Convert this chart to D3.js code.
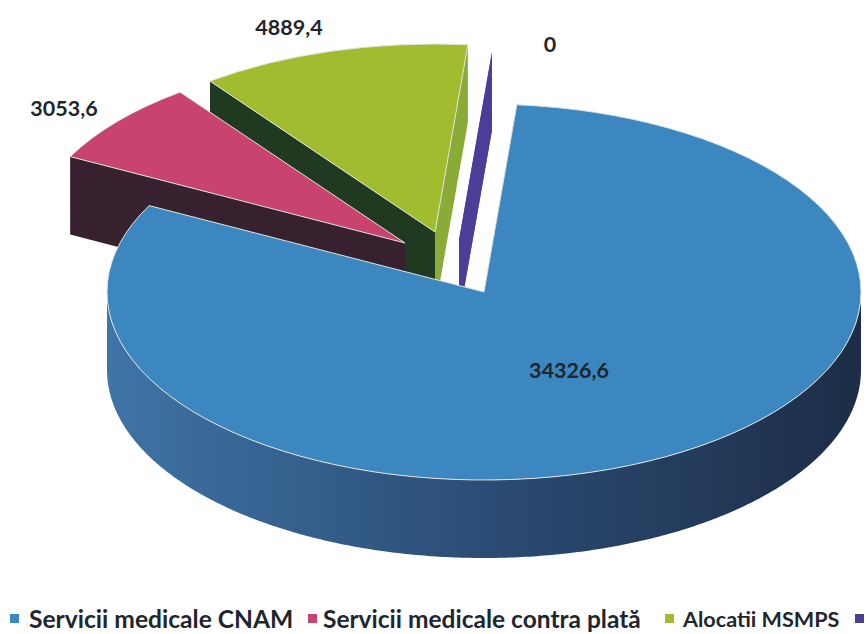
<!DOCTYPE html>
<html>
<head>
<meta charset="utf-8">
<script src="https://cdn.jsdelivr.net/npm/d3@7"></script>
<style>
  html, body { margin: 0; padding: 0; background: #fff; }
  svg { display: block; }
  text { font-family: Lato, "Open Sans", sans-serif; font-weight: 700; fill: #1e262e; }
</style>
</head>
<body>
<div id="chart"></div>
<script>
// values
const categories = ['Servicii medicale CNAM', 'Servicii medicale contra plată', 'Alocatii MSMPS', ''];
const values = [34326.6, 3053.6, 4889.4, 0];
const valueLabels = ['34326,6', '3053,6', '4889,4', '0'];

// colours per slice: top face, wall on the first edge, wall on the last edge
const topColors = ['#3d87c0', '#c9436f', '#a1bd2f', '#4c3d98'];
const startWallColors = ['#2f5f8c', '#38212f', '#1f3a20', '#4c3d98'];
const endWallColors = ['#2f5f8c', '#38212f', '#8bab38', '#4c3d98'];

const width = 868;
const height = 634;
const cx = 484;
const cy = 292;
const rx = 377;
const ry = 188;
const depth = 78;
const startAngle = 5 * Math.PI / 180;

// how far each slice is pulled out of the pie, in screen pixels
const explode = [[0, 0], [-79, -49], [-49, -60], [-25, -52]];
const labelPos = [[569, 370], [64, 108], [289, 27], [550, 44]];
const legendX = [[10, 29, 24.6], [308, 323, 24.5], [665, 683, 21.6], [855, 0, 0]];

const svg = d3.select('#chart').append('svg')
  .attr('width', width)
  .attr('height', height);

const grad = svg.append('defs').append('linearGradient')
  .attr('id', 'blueWall')
  .attr('gradientUnits', 'userSpaceOnUse')
  .attr('x1', cx - rx).attr('x2', cx + rx)
  .attr('y1', 0).attr('y2', 0);
grad.append('stop').attr('offset', '0%').attr('stop-color', '#3f74a6');
grad.append('stop').attr('offset', '50%').attr('stop-color', '#2b4c75');
grad.append('stop').attr('offset', '100%').attr('stop-color', '#1d2d47');

const slices = d3.pie().sort(null).startAngle(startAngle).endAngle(startAngle + 2 * Math.PI)(values);
const arc = d3.arc().innerRadius(0).outerRadius(rx);
const line = d3.line();

function rim(a, i, drop) {
  return [
    cx + explode[i][0] + rx * Math.sin(a),
    cy + explode[i][1] - ry * Math.cos(a) + (drop || 0)
  ];
}

function edgeWall(a, i) {
  let apex = [cx + explode[i][0], cy + explode[i][1]];
  return line([apex, rim(a, i), rim(a, i, depth), [apex[0], apex[1] + depth]]) + 'Z';
}

function drawSlice(i) {
  let d = slices[i];
  let g = svg.append('g');

  g.append('path')
    .attr('d', edgeWall(d.startAngle, i))
    .attr('fill', startWallColors[i]);
  g.append('path')
    .attr('d', edgeWall(d.endAngle, i))
    .attr('fill', endWallColors[i]);

  // outer wall, only the part of the rim that faces the viewer
  let from = Math.max(d.startAngle, Math.PI / 2);
  let to = Math.min(d.endAngle, 3 * Math.PI / 2);
  if (to > from) {
    let top = d3.range(from, to, 0.01).concat(to).map(a => rim(a, i));
    let bottom = top.map(p => [p[0], p[1] + depth]).reverse();
    g.append('path')
      .attr('d', line(top.concat(bottom)) + 'Z')
      .attr('fill', 'url(#blueWall)');
  }

  if (d.endAngle > d.startAngle) {
    g.append('path')
      .attr('d', arc(d))
      .attr('transform', 'translate(' + (cx + explode[i][0]) + ',' + (cy + explode[i][1]) + ') scale(1,' + (ry / rx) + ')')
      .attr('fill', topColors[i])
      .attr('stroke', '#dfe3da')
      .attr('stroke-width', 1)
      .attr('vector-effect', 'non-scaling-stroke');
  }
}

// back to front
[3, 2, 1, 0].forEach(drawSlice);

svg.selectAll('.value-label')
  .data(valueLabels)
  .enter().append('text')
  .attr('class', 'value-label')
  .attr('x', (d, i) => labelPos[i][0])
  .attr('y', (d, i) => labelPos[i][1])
  .attr('dy', '0.35em')
  .attr('text-anchor', 'middle')
  .attr('font-size', 21.5)
  .text(d => d);

const legend = svg.selectAll('.legend-item')
  .data(categories)
  .enter().append('g')
  .attr('class', 'legend-item');

legend.append('rect')
  .attr('x', (d, i) => legendX[i][0])
  .attr('y', 614)
  .attr('width', 9)
  .attr('height', 9)
  .attr('fill', (d, i) => topColors[i]);

legend.append('text')
  .attr('x', (d, i) => legendX[i][1])
  .attr('y', 619)
  .attr('dy', '0.35em')
  .attr('font-size', (d, i) => legendX[i][2])
  .text(d => d);
</script>
</body>
</html>
